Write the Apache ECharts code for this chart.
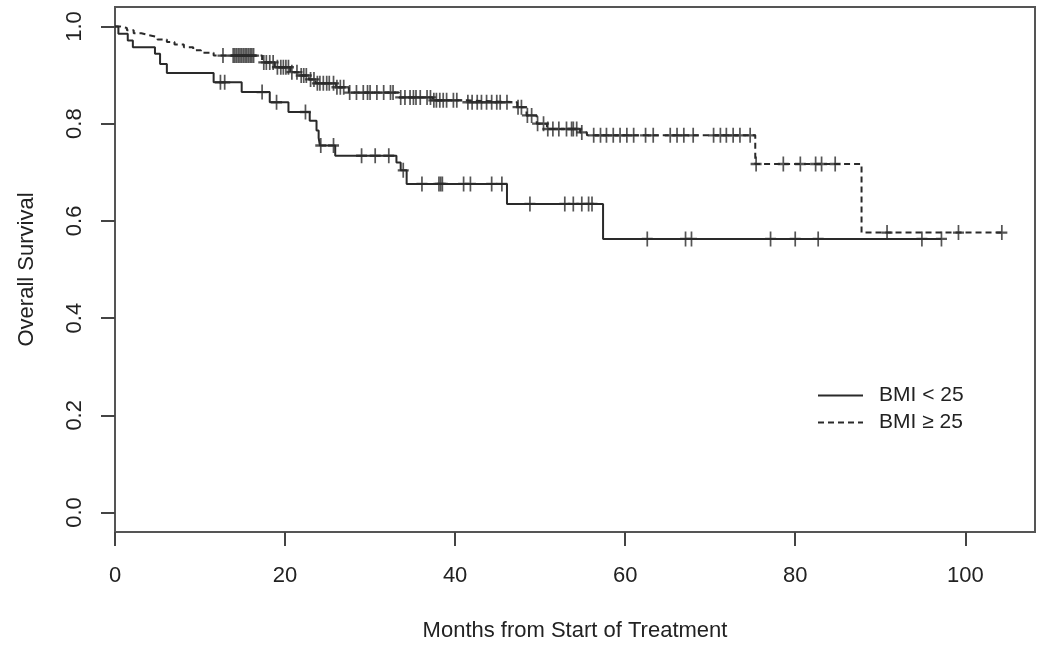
<!DOCTYPE html>
<html lang="en">
<head>
    <meta charset="utf-8" />
    <title>Overall Survival by BMI</title>
    <script src="https://cdn.jsdelivr.net/npm/echarts@6/dist/echarts.min.js"></script>
    <style>
        html, body { margin: 0; padding: 0; background: #fff; }
    </style>
</head>
<body>
    <div id="main" style="width: 1050px;height:658px;"></div>
    <script>
        // BMI < 25 : event times and survival after each step
        var lowTimes = [0, 0.4, 1.5, 2.1, 4.7, 5.3, 6.1, 11.6, 14.9, 18.2, 20.4, 22.9, 23.7, 23.95, 24.1, 25.9, 33.1, 33.6, 34.3, 46.1, 57.4];
        var lowSurv  = [1.0, 0.985, 0.971, 0.957, 0.944, 0.923, 0.904, 0.885, 0.865, 0.844, 0.824, 0.806, 0.786, 0.771, 0.755, 0.734, 0.720, 0.704, 0.676, 0.635, 0.563];
        var lowCensored = [12.4, 12.9, 17.3, 19.0, 22.4, 24.2, 25.7, 29.0, 30.6, 32.2, 33.9, 36.1, 38.1, 38.3, 38.5, 41.0, 41.8, 44.3, 45.5,
            48.8, 52.9, 53.9, 54.9, 55.7, 56.1, 62.6, 67.1, 67.8, 77.1, 80.0, 82.7, 94.9, 97.2];

        // BMI >= 25
        var highTimes = [0, 0.6, 1.4, 2.2, 3.1, 4.0, 5.0, 6.1, 7.0, 8.1, 9.2, 10.1, 11.6, 17.3, 18.8, 20.6, 21.6, 22.8, 23.6, 26.0, 27.5,
            33.4, 37.4, 41.4, 47.3, 48.4, 49.6, 50.8, 54.7, 55.5, 75.3, 87.8];
        var highSurv  = [1.0, 0.997, 0.992, 0.986, 0.982, 0.978, 0.973, 0.968, 0.963, 0.957, 0.951, 0.946, 0.940, 0.926, 0.916, 0.906, 0.899, 0.891, 0.883, 0.875, 0.864,
            0.854, 0.848, 0.844, 0.834, 0.817, 0.800, 0.789, 0.782, 0.776, 0.717, 0.576];
        var highCensored = [12.7, 13.9, 14.1, 14.3, 14.5, 14.7, 14.9, 15.1, 15.3, 15.5, 15.7, 15.9, 16.1, 16.3, 17.5, 17.8, 18.2, 18.6,
            19.1, 19.5, 19.8, 20.1, 20.4, 20.8, 21.4, 21.9, 22.2, 22.5, 23.0, 23.4, 23.8, 24.1, 24.5, 24.9, 25.2, 25.7, 26.1, 26.5,
            26.9, 27.6, 28.4, 29.2, 29.7, 30.0, 30.8, 31.6, 32.4, 32.7, 33.6, 34.1, 34.7, 35.1, 35.4, 35.9,
            36.7, 37.1, 37.5, 37.8, 38.2, 38.6, 39.0, 39.8, 40.2, 41.5, 42.0, 42.6, 43.1, 43.7, 44.3, 44.9, 45.3, 46.1, 47.4, 47.8,
            48.5, 49.0, 49.7, 50.4, 50.9, 51.5, 52.2, 53.1, 53.7, 53.9, 54.3, 54.9, 56.3, 57.1, 57.8, 58.6, 59.4, 60.2, 61.0, 62.4,
            63.3, 65.3, 66.1, 66.9, 68.0, 70.4, 71.2, 71.9, 72.7, 73.5, 74.7, 75.4, 78.6, 80.6, 82.4, 83.1, 84.7, 90.8, 99.2, 104.3];

        var seriesNames = ['BMI < 25', 'BMI \u2265 25'];
        var xTicks = [0, 20, 40, 60, 80, 100];
        var yTicks = [0, 0.2, 0.4, 0.6, 0.8, 1.0];

        // survival value of the step curve at time t
        function survAt(times, surv, t) {
            var s = surv[0];
            for (var i = 0; i < times.length; i++) {
                if (times[i] <= t) s = surv[i];
            }
            return s;
        }
        function curve(times, surv, cens) {
            var pts = [];
            for (var i = 0; i < times.length; i++) pts.push([times[i], surv[i]]);
            var last = cens[cens.length - 1];
            pts.push([last, survAt(times, surv, last)]);
            return pts;
        }
        function marks(times, surv, cens) {
            return cens.map(function (t) { return [t, survAt(times, surv, t)]; });
        }

        var ink = '#2a2a2a';
        var plus = 'path://M5,0L5,10M0,5L10,5';
        var font = '"Liberation Sans", Arial, sans-serif';

        var myChart = echarts.init(document.getElementById('main'));
        var option = {
            animation: false,
            textStyle: { fontFamily: font },
            grid: {
                left: 115, right: 15, top: 7, bottom: 126,
                show: true, borderColor: '#555', borderWidth: 2
            },
            legend: {
                data: seriesNames,
                orient: 'vertical',
                left: 817, top: 385, padding: 0,
                itemWidth: 45, itemHeight: 20, itemGap: 6,
                itemStyle: { opacity: 0 },
                textStyle: { fontSize: 21, color: '#222', padding: [0, 0, 0, 11] }
            },
            xAxis: {
                type: 'value', min: 0, max: 108.2,
                name: 'Months from Start of Treatment',
                nameLocation: 'middle', nameGap: 88,
                nameTextStyle: { fontSize: 22, color: '#222' },
                axisLine: { show: false, onZero: false },
                axisTick: { show: true, length: 14, customValues: xTicks, lineStyle: { color: '#444', width: 2 } },
                axisLabel: { customValues: xTicks, margin: 33, fontSize: 22, color: '#222' },
                splitLine: { show: false }
            },
            yAxis: {
                type: 'value', min: -0.04, max: 1.04,
                name: 'Overall Survival',
                nameLocation: 'middle', nameGap: 77,
                nameTextStyle: { fontSize: 22, color: '#222' },
                axisLine: { show: false, onZero: false },
                axisTick: { show: true, length: 14, customValues: yTicks, lineStyle: { color: '#444', width: 2 } },
                axisLabel: {
                    customValues: yTicks, margin: 29, fontSize: 22, color: '#222', rotate: 90,
                    formatter: function (v) { return v.toFixed(1); }
                },
                splitLine: { show: false }
            },
            series: [
                {
                    name: seriesNames[0], type: 'line', step: 'end', symbol: 'none',
                    data: curve(lowTimes, lowSurv, lowCensored),
                    lineStyle: { color: ink, width: 2 }, itemStyle: { color: ink }
                },
                {
                    name: seriesNames[1], type: 'line', step: 'end', symbol: 'none',
                    data: curve(highTimes, highSurv, highCensored),
                    lineStyle: { color: ink, width: 2, type: [6, 4] }, itemStyle: { color: ink }
                },
                {
                    name: 'censored low', type: 'scatter', symbol: plus, symbolSize: [11, 15],
                    data: marks(lowTimes, lowSurv, lowCensored),
                    itemStyle: { color: 'none', borderColor: ink, borderWidth: 2 }, z: 3
                },
                {
                    name: 'censored high', type: 'scatter', symbol: plus, symbolSize: [11, 15],
                    data: marks(highTimes, highSurv, highCensored),
                    itemStyle: { color: 'none', borderColor: ink, borderWidth: 2 }, z: 3
                }
            ]
        };
        myChart.setOption(option);
    </script>
</body>
</html>
